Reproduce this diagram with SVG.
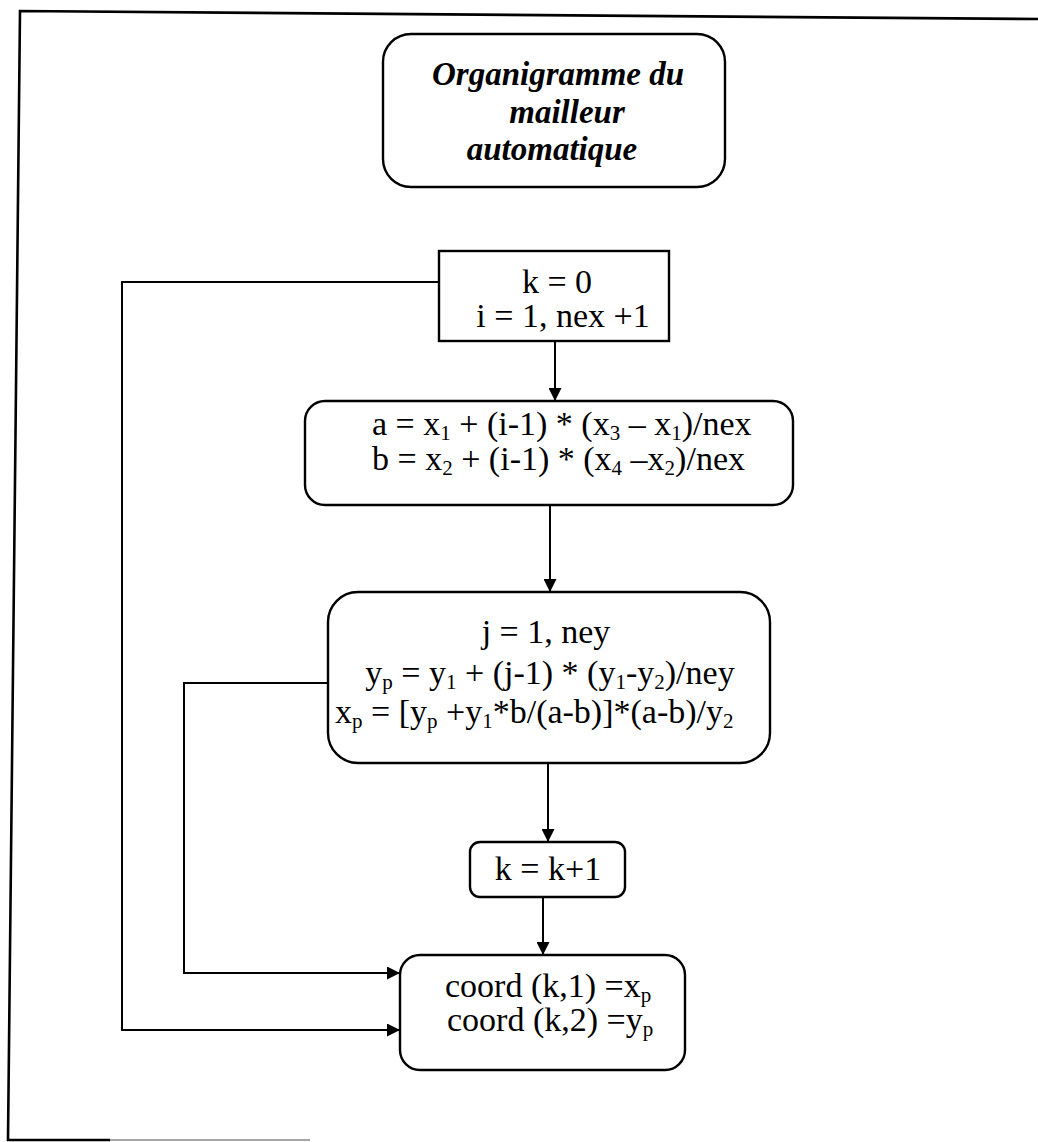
<svg xmlns="http://www.w3.org/2000/svg" width="1038" height="1142" viewBox="0 0 1038 1142">
<style>
  .box { fill: #fff; stroke: #000; stroke-width: 2.4; }
  .t { font-family: 'Liberation Serif', 'DejaVu Serif', serif; font-size: 34px; fill: #000; }
  .title { font-family: 'Liberation Serif', 'DejaVu Serif', serif; font-size: 33px; font-weight: bold; font-style: italic; fill: #000; }
  .sub { font-size: 21px; }
  .conn { fill: none; stroke: #000; stroke-width: 2; }
  .frame { fill: none; stroke: #000; stroke-width: 2.6; }
</style>
<defs>
  <marker id="arr" viewBox="0 0 10 10" refX="10" refY="5" markerWidth="13" markerHeight="13" markerUnits="userSpaceOnUse" orient="auto">
    <path d="M0,0 L10,5 L0,10 Z" fill="#000"/>
  </marker>
</defs>
<rect width="1038" height="1142" fill="#fff"/>
<path class="frame" d="M1038,19 L20,11 L8,1140 L110,1140"/>
<path d="M110,1140 H310" fill="none" stroke="#888" stroke-width="1.5"/>

<g id="connectors">
  <path class="conn" d="M439,282 H122 V1030 H400" marker-end="url(#arr)"/>
  <path class="conn" d="M555,341 V401" marker-end="url(#arr)"/>
  <path class="conn" d="M550,505 V592" marker-end="url(#arr)"/>
  <path class="conn" d="M328,683 H184 V973 H400" marker-end="url(#arr)"/>
  <path class="conn" d="M548,763 V842" marker-end="url(#arr)"/>
  <path class="conn" d="M543,897 V955" marker-end="url(#arr)"/>
</g>

<g id="title">
  <rect class="box" x="383" y="34" width="342" height="153" rx="28"/>
  <text class="title" x="432" y="85">Organigramme du</text>
  <text class="title" x="567" y="123" text-anchor="middle">mailleur</text>
  <text class="title" x="552" y="160" text-anchor="middle">automatique</text>
</g>

<g id="init">
  <rect class="box" x="439" y="251" width="230" height="90"/>
  <text class="t" x="557" y="293" text-anchor="middle">k = 0</text>
  <text class="t" x="563" y="327" text-anchor="middle">i = 1, nex +1</text>
</g>

<g id="ab">
  <rect class="box" x="305" y="401" width="488" height="104" rx="20"/>
  <text class="t" x="372" y="435">a = x<tspan class="sub" dy="5">1</tspan><tspan dy="-5"> + (i-1) * (x</tspan><tspan class="sub" dy="5">3</tspan><tspan dy="-5"> – x</tspan><tspan class="sub" dy="5">1</tspan><tspan dy="-5">)/nex</tspan></text>
  <text class="t" x="372" y="470">b = x<tspan class="sub" dy="5">2</tspan><tspan dy="-5"> + (i-1) * (x</tspan><tspan class="sub" dy="5">4</tspan><tspan dy="-5"> –x</tspan><tspan class="sub" dy="5">2</tspan><tspan dy="-5">)/nex</tspan></text>
</g>

<g id="jloop">
  <rect class="box" x="328" y="592" width="442" height="171" rx="30"/>
  <text class="t" x="546" y="643" text-anchor="middle">j = 1, ney</text>
  <text class="t" x="550" y="684" text-anchor="middle">y<tspan class="sub" dy="5">p</tspan><tspan dy="-5"> = y</tspan><tspan class="sub" dy="5">1</tspan><tspan dy="-5"> + (j-1) * (y</tspan><tspan class="sub" dy="5">1</tspan><tspan dy="-5">-y</tspan><tspan class="sub" dy="5">2</tspan><tspan dy="-5">)/ney</tspan></text>
  <text class="t" x="335" y="723">x<tspan class="sub" dy="5">p</tspan><tspan dy="-5"> = [y</tspan><tspan class="sub" dy="5">p</tspan><tspan dy="-5"> +y</tspan><tspan class="sub" dy="5">1</tspan><tspan dy="-5">*b/(a-b)]*(a-b)/y</tspan><tspan class="sub" dy="5">2</tspan></text>
</g>

<g id="inc">
  <rect class="box" x="470" y="842" width="155" height="55" rx="10"/>
  <text class="t" x="548" y="880" text-anchor="middle">k = k+1</text>
</g>

<g id="coord">
  <rect class="box" x="400" y="955" width="285" height="115" rx="20"/>
  <text class="t" x="445" y="997">coord (k,1) =x<tspan class="sub" dy="5">p</tspan></text>
  <text class="t" x="447" y="1031">coord (k,2) =y<tspan class="sub" dy="5">p</tspan></text>
</g>
</svg>
